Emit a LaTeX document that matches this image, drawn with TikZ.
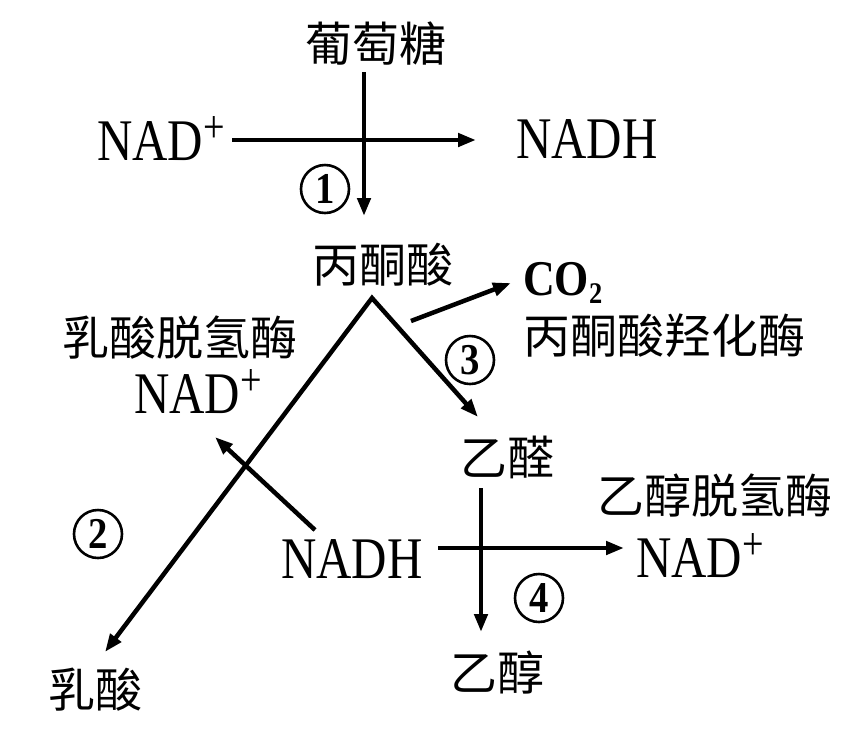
\documentclass[tikz,border=0pt]{standalone}
\usepackage{fontspec}
\usetikzlibrary{arrows.meta}
\newfontfamily\cjk{Noto Sans CJK SC}
\newfontfamily\lat[FakeStretch=0.83]{Liberation Serif}
\newfontfamily\latb[FakeStretch=0.88]{Liberation Serif}
\newcommand\psup{\raisebox{18pt}[40pt][0pt]{\fontsize{46pt}{46pt}\selectfont +}}
\tikzset{
  txt/.style={inner sep=0pt, outer sep=0pt},
  cj/.style={txt, font=\cjk\fontsize{47pt}{47pt}\selectfont},
  la/.style={txt, anchor=base west, font=\lat\fontsize{59pt}{59pt}\selectfont},
  num/.style={circle, draw, line width=2.6pt, minimum size=48pt, inner sep=0pt,
              font=\latb\bfseries\fontsize{44pt}{44pt}\selectfont},
  tip/.style={-{Triangle[length=18pt,width=13pt]}},
  arr/.style={line width=4.5pt, tip},
  lamb/.style={line width=4.5pt, line join=miter,
               {Triangle[length=18pt,width=13pt]}-{Triangle[length=18pt,width=13pt]}}
}
\begin{document}
\begin{tikzpicture}[x=1pt,y=-1pt]
\fill[white] (0,0) rectangle (843,732);
\useasboundingbox (0,0) rectangle (843,732);

% texts
\node[cj] (glu) at (376,44) {葡萄糖};
\node[la] (nad1) at (97,160) {NAD\psup};
\node[la] (nadh1) at (516,158) {NADH};
\node[num] (n1) at (325,189) {1};
\node[cj] (pyr) at (383,265) {丙酮酸};
\node[txt, anchor=base west, font=\latb\bfseries\fontsize{50pt}{50pt}\selectfont] (co2) at (523,295)
  {CO\raisebox{-8pt}{\fontsize{30pt}{30pt}\selectfont 2}};
\node[cj] (pdc) at (664,336) {丙酮酸羟化酶};
\node[num] (n3) at (470,360) {3};
\node[cj] (ldh) at (180,338) {乳酸脱氢酶};
\node[la] (nad2) at (134,413) {NAD\psup};
\node[cj] (ald) at (507,457) {乙醛};
\node[cj] (adh) at (715,496) {乙醇脱氢酶};
\node[num] (n2) at (98,534) {2};
\node[la] (nadh2) at (281,578) {NADH};
\node[la] (nad3) at (636,577) {NAD\psup};
\node[num] (n4) at (539,598) {4};
\node[cj] (eth) at (497,672) {乙醇};
\node[cj] (lac) at (95,690) {乳酸};

% connector end points
\coordinate (g1) at (364,72);
\coordinate (g2) at (364,216);
\coordinate (h1) at (232,140);
\coordinate (h2) at (476,140);
\coordinate (apex) at (372,298);
\coordinate (ltip) at (105,652);
\coordinate (rtip) at (478,417);
\coordinate (c1) at (411,321);
\coordinate (c2) at (511,283);
\coordinate (k1) at (315,530);
\coordinate (k2) at (215,437);
\coordinate (v1) at (481,488);
\coordinate (v2) at (481,632);
\coordinate (w1) at (438,548);
\coordinate (w2) at (624,548);

% connectors
\draw[arr] (g1) -- (g2);
\draw[arr] (h1) -- (h2);
\draw[lamb] (ltip) -- (apex) -- (rtip);
\draw[arr] (c1) -- (c2);
\draw[arr] (k1) -- (k2);
\draw[arr] (v1) -- (v2);
\draw[arr] (w1) -- (w2);
\end{tikzpicture}
\end{document}
